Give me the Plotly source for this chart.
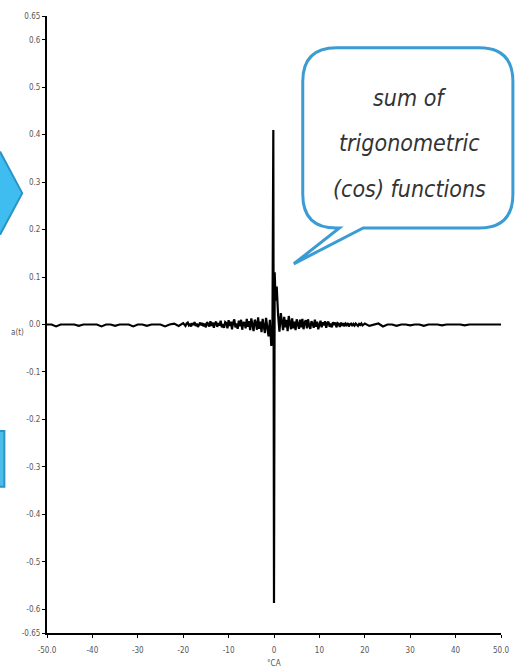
import numpy as np
import plotly.graph_objects as go

# ---------------- data ----------------
# far-left quiet segment, x = -50 .. -20 (step 1)
far_left_x = list(np.arange(-50, -19, 1.0))
far_left_y = [0, 0, -0.004, 0, 0, 0, 0, -0.003, 0, 0,
              0, 0, -0.004, 0, 0, -0.003, 0, 0, 0, -0.004,
              0, 0, -0.003, 0, 0, 0, -0.004, 0, 0.002, -0.003,
              0.003]
# noisy band left of the spike, x = -19.75 .. -1.5 (step 0.25)
mid_left_x = list(np.arange(-19.75, -1.49, 0.25))
mid_left_y = ([0.001, -0.003, 0.002, 0.004, -0.002, 0.000, -0.004, 0.003, -0.001, 0.005,
               -0.003, 0.002, -0.005, 0.001, 0.004, -0.002, 0.003, -0.004, 0.002]
              + [-0.006, 0.005, 0.001, -0.004, 0.007, -0.003, 0.004, -0.007, 0.002, 0.006,
                 -0.005, 0.003, -0.002, 0.008, -0.006, 0.001, -0.007, 0.005, 0.003]
              + [-0.008, 0.009, -0.003, 0.006, -0.010, 0.004, 0.011, -0.006, 0.002, -0.009,
                 0.008, -0.004, 0.010, -0.011, 0.005, 0.003, -0.008, 0.012, -0.005]
              + [0.007, -0.012, 0.013, -0.006, -0.014, 0.010, 0.004, -0.011, 0.015, -0.009,
                 0.006, -0.016, 0.012, -0.004, -0.018, 0.014, -0.010])
# spike region
center_x = [-1.2, -0.9, -0.6, -0.35, -0.15, 0.0, 0.15, 0.35, 0.6, 0.9, 1.2]
center_y = [-0.025, 0.01, -0.045, -0.03, 0.41, -0.587, 0.11, 0.05, 0.08, 0.02, -0.015]
# noisy band right of the spike, x = 1.5 .. 19.75 (step 0.25)
mid_right_x = list(np.arange(1.5, 19.76, 0.25))
mid_right_y = ([0.024, 0.008, -0.012, 0.016, -0.006, 0.010, -0.014, 0.018, 0.004, -0.010,
                0.013, -0.008, 0.006, -0.012, 0.011, 0.002, -0.009]
               + [0.010, -0.006, 0.012, -0.010, 0.004, 0.009, -0.008, 0.011, -0.003, -0.009,
                  0.007, 0.002, -0.007, 0.010, -0.005, 0.006, -0.010, 0.003, 0.008]
               + [-0.006, 0.005, -0.002, 0.007, -0.007, 0.003, 0.006, -0.005, 0.002, -0.006,
                  0.005, -0.001, 0.004, -0.006, 0.003, 0.001, -0.005, 0.004, -0.003]
               + [0.003, -0.004, 0.002, -0.001, 0.003, -0.004, 0.001, 0.002, -0.003, 0.001,
                  -0.002, 0.002, 0.000, -0.003, 0.001, -0.001, 0.002, -0.002, 0.000])
# far-right quiet segment, x = 20 .. 50 (step 1)
far_right_x = list(np.arange(20, 51, 1.0))
far_right_y = [0.002, -0.003, 0, 0.002, -0.004, 0, 0, -0.003, 0, 0,
               -0.002, 0, 0, -0.003, 0, 0, 0, -0.002, 0, 0,
               0, 0, -0.002, 0, 0, 0, 0, 0, 0, 0,
               0]

x_tick_vals = [-50, -40, -30, -20, -10, 0, 10, 20, 30, 40, 50]
x_tick_text = ["-50.0", "-40", "-30", "-20", "-10", "0", "10", "20", "30", "40", "50.0"]
y_tick_vals = [-0.65, -0.6, -0.5, -0.4, -0.3, -0.2, -0.1, 0.0, 0.1, 0.2, 0.3, 0.4, 0.5, 0.6, 0.65]
y_tick_text = ["-0.65", "-0.6", "-0.5", "-0.4", "-0.3", "-0.2", "-0.1", "0.0",
               "0.1", "0.2", "0.3", "0.4", "0.5", "0.6", "0.65"]

bubble_lines = ["sum of", "trigonometric", "(cos) functions"]

assert len(mid_left_x) == len(mid_left_y), (len(mid_left_x), len(mid_left_y))
assert len(mid_right_x) == len(mid_right_y), (len(mid_right_x), len(mid_right_y))
xs = far_left_x + mid_left_x + center_x + mid_right_x + far_right_x
ys = far_left_y + mid_left_y + center_y + mid_right_y + far_right_y
assert len(xs) == len(ys)

# ---------------- layout helpers ----------------
W, H = 521, 670
L, R, T, B = 47, 505, 13, 633


def px(xpix):
    return (xpix - L) / (R - L)


def py(ypix):
    return (B - ypix) / (B - T)


def path(points_cmds):
    out = []
    for cmd in points_cmds:
        if cmd[0] in ("M", "L"):
            out.append(f"{cmd[0]}{px(cmd[1]):.5f},{py(cmd[2]):.5f}")
        elif cmd[0] == "Q":
            out.append(f"Q{px(cmd[1]):.5f},{py(cmd[2]):.5f} {px(cmd[3]):.5f},{py(cmd[4]):.5f}")
        elif cmd[0] == "Z":
            out.append("Z")
    return " ".join(out)


fig = go.Figure()
fig.add_trace(go.Scatter(x=xs, y=ys, mode="lines",
                         line=dict(color="black", width=2.2), showlegend=False,
                         hoverinfo="skip"))

tick_font = dict(family="Liberation Sans Narrow, DejaVu Sans Condensed, Arial Narrow, Liberation Sans, sans-serif",
                 size=8, color="#555555")

fig.update_xaxes(range=[-50, 50], tickvals=x_tick_vals, ticktext=x_tick_text,
                 showgrid=False, zeroline=False, showline=True, linecolor="black",
                 linewidth=2, ticks="outside", ticklen=3, tickcolor="black",
                 tickfont=tick_font, ticklabelstandoff=5)
fig.update_yaxes(range=[-0.65, 0.65], tickvals=y_tick_vals, ticktext=y_tick_text,
                 showgrid=False, zeroline=False, showline=True, linecolor="black",
                 linewidth=2, ticks="outside", ticklen=3, tickcolor="black",
                 tickfont=tick_font)

shapes = []
# speech bubble
bx0, bx1, by0, by1, r = 305, 517, 45, 226, 34
bubble = [("M", bx0 + r, by0), ("L", bx1 - r, by0), ("Q", bx1, by0, bx1, by0 + r),
          ("L", bx1, by1 - r), ("Q", bx1, by1, bx1 - r, by1), ("L", 366, by1),
          ("L", 296, 262), ("L", 342, by1), ("L", bx0 + r, by1),
          ("Q", bx0, by1, bx0, by1 - r), ("L", bx0, by0 + r), ("Q", bx0, by0, bx0 + r, by0),
          ("Z",)]
shapes.append(dict(type="path", xref="paper", yref="paper", path=path(bubble),
                   fillcolor="white", line=dict(color="#3b9bd3", width=3), layer="above"))
# left arrow tip
arrow = [("M", -10, 150), ("L", 0, 150), ("L", 22, 191), ("L", 0, 232), ("L", -10, 232), ("Z",)]
shapes.append(dict(type="path", xref="paper", yref="paper", path=path(arrow),
                   fillcolor="#3fbdf0", line=dict(color="#2b93c6", width=2), layer="above"))
# left rectangle fragment
rect = [("M", -10, 430), ("L", 4, 430), ("L", 4, 486), ("L", -10, 486), ("Z",)]
shapes.append(dict(type="path", xref="paper", yref="paper", path=path(rect),
                   fillcolor="#4bbde9", line=dict(color="#2b93c6", width=2), layer="above"))

annotations = []
bubble_font = dict(family="Liberation Sans Narrow, DejaVu Sans Condensed, Arial Narrow, Liberation Sans, sans-serif",
                   size=23, color="#333333", style="italic")
for txt, yy in zip(bubble_lines, [95, 141, 187]):
    annotations.append(dict(text=txt, xref="paper", yref="paper", x=px(413), y=py(yy),
                            xanchor="center", yanchor="middle", showarrow=False,
                            font=bubble_font))
annotations.append(dict(text="a(t)", xref="paper", yref="paper", x=px(17), y=py(331),
                        xanchor="center", yanchor="middle", showarrow=False, font=tick_font))
annotations.append(dict(text="°CA", xref="paper", yref="paper", x=px(276), y=py(664),
                        xanchor="center", yanchor="middle", showarrow=False, font=tick_font))

fig.update_layout(width=W, height=H, margin=dict(l=L, r=W - R, t=T, b=H - B),
                  paper_bgcolor="white", plot_bgcolor="white",
                  shapes=shapes, annotations=annotations)

fig.write_html("out.html")
